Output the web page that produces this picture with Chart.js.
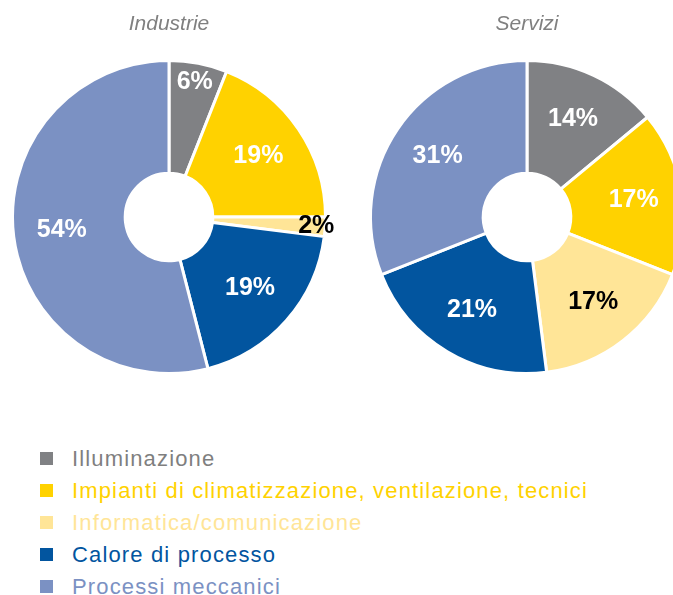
<!DOCTYPE html>
<html>
<head>
<meta charset="utf-8">
<script src="https://cdn.jsdelivr.net/npm/chart.js@4/dist/chart.umd.min.js"></script>
<style>
  html, body { margin: 0; padding: 0; background: #fff; }
  #wrap { position: relative; width: 673px; height: 595px; overflow: hidden; }
  #box-ind { position: absolute; left: 0; top: 0; width: 350px; height: 375px; }
  #box-ser { position: absolute; left: 358px; top: 0; width: 350px; height: 375px; }
  #legend { position: absolute; left: 40px; top: 443px; margin: 0; padding: 0; list-style: none;
    font-family: "Liberation Sans", Arial, sans-serif; font-size: 22px; letter-spacing: 1.15px; }
  #legend li { height: 32px; line-height: 32px; white-space: nowrap; }
  #legend span.sq { display: inline-block; width: 13px; height: 13px; margin-right: 19px; vertical-align: 1px; }
</style>
</head>
<body>
<div id="wrap">
  <div id="box-ind"><canvas id="chart-ind"></canvas></div>
  <div id="box-ser"><canvas id="chart-ser"></canvas></div>
  <ul id="legend"></ul>
</div>
<script>
// data
const categories = [
  'Illuminazione',
  'Impianti di climatizzazione, ventilazione, tecnici',
  'Informatica/comunicazione',
  'Calore di processo',
  'Processi meccanici'
];
const industrieValues = [6, 19, 2, 19, 54];
const serviziValues = [14, 17, 17, 21, 31];
const colors = ['#808184', '#ffd200', '#ffe597', '#02559f', '#7b91c3'];
const labelColors = ['#ffffff', '#ffffff', '#000000', '#ffffff', '#ffffff'];

const font = '"Liberation Sans", Arial, sans-serif';

// percent labels drawn on the slices
const sliceLabels = {
  id: 'sliceLabels',
  afterDatasetsDraw(chart) {
    const ctx = chart.ctx;
    const meta = chart.getDatasetMeta(0);
    const values = chart.data.datasets[0].data;
    ctx.save();
    ctx.font = 'bold 25px ' + font;
    ctx.textAlign = 'center';
    ctx.textBaseline = 'middle';
    meta.data.forEach((arc, i) => {
      const p = arc.getProps(['x', 'y', 'startAngle', 'endAngle', 'innerRadius', 'outerRadius'], true);
      const mid = (p.startAngle + p.endAngle) / 2;
      const v = values[i];
      const frac = v <= 3 ? 0.92 : (v < 10 ? 0.83 : 0.57);
      const r = p.innerRadius + frac * (p.outerRadius - p.innerRadius);
      ctx.fillStyle = labelColors[i];
      ctx.fillText(v + '%', p.x + Math.cos(mid) * r, p.y + Math.sin(mid) * r);
    });
    ctx.restore();
  }
};

function makeChart(id, title, values) {
  return new Chart(document.getElementById(id), {
    type: 'doughnut',
    data: {
      labels: categories,
      datasets: [{
        data: values,
        backgroundColor: colors,
        borderColor: '#ffffff',
        borderWidth: 3,
        hoverOffset: 0
      }]
    },
    options: {
      responsive: true,
      maintainAspectRatio: false,
      animation: false,
      cutout: '28%',
      layout: { padding: { right: 12, bottom: 0 } },
      events: [],
      plugins: {
        legend: { display: false },
        tooltip: { enabled: false },
        title: {
          display: true,
          text: title,
          color: '#808080',
          font: { family: font, size: 21, style: 'italic', weight: 'normal' },
          padding: { top: 11.4, bottom: 22.4 }
        }
      }
    },
    plugins: [sliceLabels]
  });
}

makeChart('chart-ind', 'Industrie', industrieValues);
makeChart('chart-ser', 'Servizi', serviziValues);

// shared legend
document.getElementById('legend').innerHTML = categories.map((c, i) => `
  <li style="color:${i === 0 ? '#7f7f7f' : colors[i]}"><span class="sq" style="background:${colors[i]}"></span>${c}</li>
`).join('');
</script>
</body>
</html>
